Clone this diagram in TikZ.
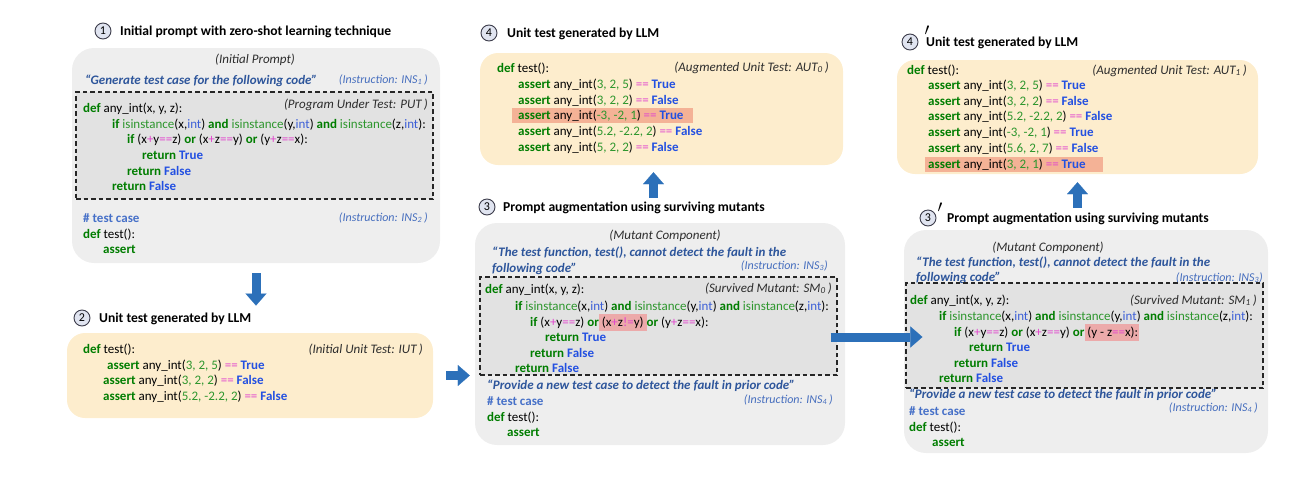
\documentclass[tikz,border=0pt]{standalone}
\usepackage{fontspec}
\setmainfont{Carlito}
\usetikzlibrary{positioning,arrows.meta}

\definecolor{kwgreen}{RGB}{0,125,0}
\definecolor{fngreen}{RGB}{45,150,45}
\definecolor{boolblue}{RGB}{35,80,225}
\definecolor{tyblue}{RGB}{60,95,215}
\definecolor{opmag}{RGB}{225,70,205}
\definecolor{cmtblue}{RGB}{70,112,200}
\definecolor{insblue}{RGB}{45,85,155}
\definecolor{lblblue}{RGB}{70,110,190}
\definecolor{notegray}{RGB}{45,45,45}
\definecolor{promptgray}{RGB}{238,238,238}
\definecolor{codegray}{RGB}{226,226,226}
\definecolor{testyellow}{RGB}{253,237,205}
\definecolor{hlsalmon}{RGB}{244,178,150}
\definecolor{hlpink}{RGB}{236,170,170}
\definecolor{arrowblue}{RGB}{44,112,185}
\definecolor{numfill}{RGB}{224,228,240}
\definecolor{numedge}{RGB}{60,60,75}

\newcommand{\ckw}[1]{\textcolor{kwgreen}{\textbf{#1}}}
\newcommand{\cfn}[1]{\textcolor{fngreen}{#1}}
\newcommand{\cbool}[1]{\textcolor{boolblue}{\textbf{#1}}}
\newcommand{\cty}[1]{\textcolor{tyblue}{#1}}
\newcommand{\cop}[1]{\textcolor{opmag}{#1}}
\newcommand{\lnDef}{\ckw{def} any\_int(x, y, z):}
\newcommand{\lnIf}{\ckw{if} \cfn{isinstance}(x,\cty{int}) \ckw{and} \cfn{isinstance}(y,\cty{int}) \ckw{and} \cfn{isinstance}(z,\cty{int}):}
\newcommand{\lnRet}[1]{\ckw{return} \cbool{#1}}
\newcommand{\lnAssert}[2]{\ckw{assert} any\_int(\cfn{#1}) \cop{==} \cbool{#2}}

\tikzset{
  codeln/.style={anchor=base west, inner sep=0pt, font=\fontsize{13}{16}\selectfont},
  cmt/.style={anchor=base east, inner sep=0pt, font=\fontsize{13}{16}\selectfont\itshape, text=notegray},
  inslbl/.style={anchor=base east, inner sep=0pt, font=\fontsize{12}{14}\selectfont\itshape, text=lblblue},
  insquote/.style={anchor=base west, inner sep=0pt, font=\fontsize{13}{16}\selectfont\bfseries\itshape, text=insblue},
  hashcmt/.style={anchor=base west, inner sep=0pt, font=\fontsize{13}{16}\selectfont\bfseries, text=cmtblue},
  steptitle/.style={anchor=base west, inner sep=0pt, font=\fontsize{13.6}{16}\selectfont\bfseries},
  stepnum/.style={circle, draw=numedge, fill=numfill, line width=0.9pt, minimum size=16pt, inner sep=0pt, font=\fontsize{12}{12}\selectfont},
  primemark/.style={inner sep=0pt, font=\fontsize{17}{17}\selectfont},
  promptbox/.style={rectangle, fill=promptgray, rounded corners=22pt, inner sep=0pt},
  testbox/.style={rectangle, fill=testyellow, rounded corners=18pt, inner sep=0pt},
  codebox/.style={rectangle, draw=black!85, fill=codegray, line width=1.2pt, dash pattern=on 4.5pt off 3pt, inner sep=0pt},
  bigarrow/.style={draw=arrowblue, line width=9pt, -{Triangle[length=12pt,width=21pt,line width=0.1pt]}},
}

\begin{document}
\begin{tikzpicture}[x=1pt,y=-1pt]
  \useasboundingbox (0,0) rectangle (1296,480);

  % step 1: initial prompt
  \node[stepnum] (num1) at (103,31) {1};
  \node[steptitle] (ttl1) at (120,35) {Initial prompt with zero-shot learning technique};
  \node[promptbox, minimum width=368pt, minimum height=215pt] (prompt1) at (256,155.5) {};
  \node[cmt, anchor=base] (lbl1) at (255,63) {(Initial Prompt)};
  \node[insquote] (quote1) at (85,84) {“Generate test case for the following code”};
  \node[inslbl] (ins1) at (428,83) {(Instruction: INS\textsubscript{1}\,)};
  \node[codebox, minimum width=357pt, minimum height=107pt] (put1) at (254.5,145.5) {};
  \node[cmt] (putlbl1) at (428,108) {(Program Under Test: PUT\,)};
  \node[codeln] (p1a) at (83,112) {\lnDef};
  \node[codeln] (p1b) at (112,128) {\lnIf};
  \node[codeln] (p1c) at (127,143) {\ckw{if} (x\cop{+}y\cop{==}z) \ckw{or} (x\cop{+}z\cop{==}y) \ckw{or} (y\cop{+}z\cop{==}x):};
  \node[codeln] (p1d) at (142,159) {\lnRet{True}};
  \node[codeln] (p1e) at (127,175) {\lnRet{False}};
  \node[codeln] (p1f) at (112,190) {\lnRet{False}};
  \node[hashcmt] (hash1) at (83,222) {\# test case};
  \node[inslbl] (ins2) at (428,221) {(Instruction: INS\textsubscript{2}\,)};
  \node[codeln] (t1a) at (83,238) {\ckw{def} test():};
  \node[codeln] (t1b) at (103,253) {\ckw{assert}};

  % step 2: initial unit test
  \node[stepnum] (num2) at (82,318) {2};
  \node[steptitle] (ttl2) at (99,322) {Unit test generated by LLM};
  \node[testbox, minimum width=366pt, minimum height=85pt] (test2) at (250,375.5) {};
  \node[codeln] (u2a) at (83,353) {\ckw{def} test():};
  \node[cmt] (iutlbl) at (423,353) {(Initial Unit Test: IUT\,)};
  \node[codeln] (u2b) at (107,369) {\lnAssert{3, 2, 5}{True}};
  \node[codeln] (u2c) at (103,384) {\lnAssert{3, 2, 2}{False}};
  \node[codeln] (u2d) at (103,400) {\lnAssert{5.2, -2.2, 2}{False}};

  % step 3: prompt augmentation
  \node[stepnum] (num3) at (487,207) {3};
  \node[steptitle] (ttl3) at (503,211) {Prompt augmentation using surviving mutants};
  \node[promptbox, minimum width=370pt, minimum height=222pt] (prompt3) at (660,334) {};
  \node[cmt, anchor=base] (lbl3) at (665,239) {(Mutant Component)};
  \node[insquote] (quote3a) at (492,256) {“The test function, test(), cannot detect the fault in the};
  \node[insquote] (quote3b) at (492,272) {following code”};
  \node[inslbl] (ins3) at (828,269) {(Instruction: INS\textsubscript{3})};
  \node[codebox, minimum width=357pt, minimum height=98pt] (mut3) at (658.5,326) {};
  \fill[hlpink] (599,314) rectangle (647,331);
  \node[cmt] (smlbl0) at (832,292) {(Survived Mutant: SM\textsubscript{0}\,)};
  \node[codeln] (m3a) at (485,293) {\lnDef};
  \node[codeln] (m3b) at (515,310) {\lnIf};
  \node[codeln] (m3c) at (530,326) {\ckw{if} (x\cop{+}y\cop{==}z) \ckw{or} (x\cop{+}z\cop{!=}y) \ckw{or} (y\cop{+}z\cop{==}x):};
  \node[codeln] (m3d) at (545,341) {\lnRet{True}};
  \node[codeln] (m3e) at (530,357) {\lnRet{False}};
  \node[codeln] (m3f) at (515,372) {\lnRet{False}};
  \node[insquote] (quote3c) at (487,389) {“Provide a new test case to detect the fault in prior code”};
  \node[hashcmt] (hash3) at (487,405) {\# test case};
  \node[inslbl] (ins4) at (833,403) {(Instruction: INS\textsubscript{4}\,)};
  \node[codeln] (t3a) at (487,421) {\ckw{def} test():};
  \node[codeln] (t3b) at (507,436) {\ckw{assert}};

  % step 4: augmented unit test
  \node[stepnum] (num4) at (489,33) {4};
  \node[steptitle] (ttl4) at (507,37) {Unit test generated by LLM};
  \node[testbox, minimum width=363pt, minimum height=112pt] (test4) at (661.5,109) {};
  \fill[hlsalmon] (512,108) rectangle (693,123);
  \node[codeln] (a4a) at (497,72) {\ckw{def} test():};
  \node[cmt] (autlbl0) at (829,71) {(Augmented Unit Test: AUT\textsubscript{0}\,)};
  \node[codeln] (a4b) at (518,88) {\lnAssert{3, 2, 5}{True}};
  \node[codeln] (a4c) at (518,104) {\lnAssert{3, 2, 2}{False}};
  \node[codeln] (a4d) at (518,119) {\lnAssert{-3, -2, 1}{True}};
  \node[codeln] (a4e) at (518,135) {\lnAssert{5.2, -2.2, 2}{False}};
  \node[codeln] (a4f) at (518,151) {\lnAssert{5, 2, 2}{False}};

  % step 3': second prompt augmentation
  \node[stepnum] (num3b) at (928,218) {3};
  \node[primemark] (pr3b) at (940,208) {$\prime$};
  \node[steptitle] (ttl3b) at (947,222) {Prompt augmentation using surviving mutants};
  \node[promptbox, minimum width=364pt, minimum height=223pt] (prompt3b) at (1086,341.5) {};
  \node[cmt, anchor=base] (lbl3b) at (1048,251) {(Mutant Component)};
  \node[insquote] (quote3d) at (916,266) {“The test function, test(), cannot detect the fault in the};
  \node[insquote] (quote3e) at (916,281) {following code”};
  \node[inslbl] (ins3b) at (1263,281) {(Instruction: INS\textsubscript{3})};
  \node[codebox, minimum width=357pt, minimum height=105pt] (mut3b) at (1084.5,335.5) {};
  \fill[hlpink] (1085,324) rectangle (1139,341);
  \node[cmt] (smlbl1) at (1257,304) {(Survived Mutant: SM\textsubscript{1}\,)};
  \node[codeln] (n3a) at (910,304) {\lnDef};
  \node[codeln] (n3b) at (939,320) {\lnIf};
  \node[codeln] (n3c) at (954,336) {\ckw{if} (x\cop{+}y\cop{==}z) \ckw{or} (x\cop{+}z\cop{==}y) \ckw{or} (y - z\cop{==}x):};
  \node[codeln] (n3d) at (969,351) {\lnRet{True}};
  \node[codeln] (n3e) at (954,367) {\lnRet{False}};
  \node[codeln] (n3f) at (939,382) {\lnRet{False}};
  \node[insquote] (quote3f) at (909,398) {“Provide a new test case to detect the fault in prior code”};
  \node[hashcmt] (hash3b) at (909,415) {\# test case};
  \node[inslbl] (ins4b) at (1258,411) {(Instruction: INS\textsubscript{4}\,)};
  \node[codeln] (t3c) at (909,431) {\ckw{def} test():};
  \node[codeln] (t3d) at (932,446) {\ckw{assert}};

  % step 4': second augmented unit test
  \node[stepnum] (num4b) at (910,42) {4};
  \node[primemark] (pr4b) at (927,31) {$\prime$};
  \node[steptitle] (ttl4b) at (926,46) {Unit test generated by LLM};
  \node[testbox, minimum width=361pt, minimum height=114pt] (test4b) at (1077.5,117) {};
  \fill[hlsalmon] (925,157) rectangle (1103,172);
  \node[codeln] (b4a) at (907,74) {\ckw{def} test():};
  \node[cmt] (autlbl1) at (1247,74) {(Augmented Unit Test: AUT\textsubscript{1}\,)};
  \node[codeln] (b4b) at (928,89) {\lnAssert{3, 2, 5}{True}};
  \node[codeln] (b4c) at (928,105) {\lnAssert{3, 2, 2}{False}};
  \node[codeln] (b4d) at (928,120) {\lnAssert{5.2, -2.2, 2}{False}};
  \node[codeln] (b4e) at (928,136) {\lnAssert{-3, -2, 1}{True}};
  \node[codeln] (b4f) at (928,152) {\lnAssert{5.6, 2, 7}{False}};
  \node[codeln] (b4g) at (928,168) {\lnAssert{3, 2, 1}{True}};

  % flow arrows
  \coordinate (a3) at ([xshift=-8pt]test4.south);
  \coordinate (a4) at ([yshift=-11pt]mut3.east);
  \draw[bigarrow, shorten <=10pt, shorten >=4pt] (prompt1.south) -- (prompt1.south |- num2.north);
  \draw[bigarrow, shorten <=13pt, shorten >=5pt] (test2.east) -- (test2.east -| prompt3.west);
  \draw[bigarrow, shorten <=1pt, shorten >=7pt] (a3 |- num3.north) -- (a3);
  \draw[bigarrow, shorten <=-7pt, shorten >=-17pt] (a4) -- (a4 -| mut3b.west);
  \draw[bigarrow, shorten <=2pt, shorten >=8pt] (test4b.south |- num3b.north) -- (test4b.south);
\end{tikzpicture}
\end{document}
